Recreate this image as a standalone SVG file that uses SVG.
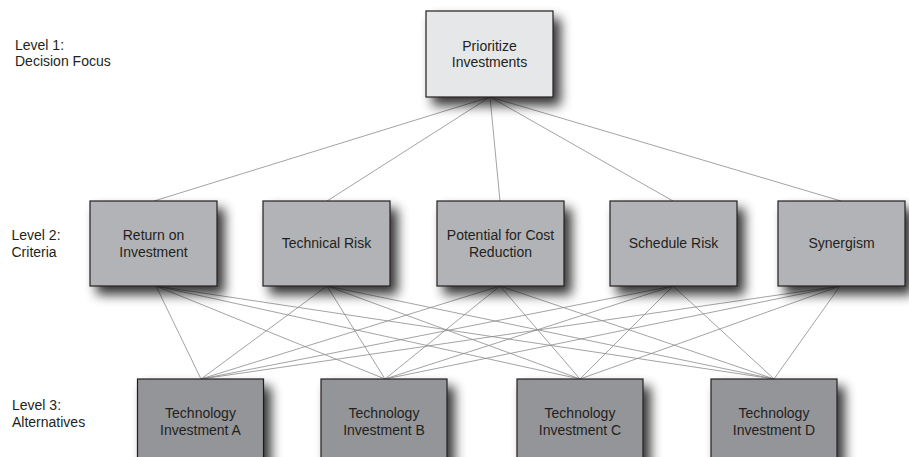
<svg xmlns="http://www.w3.org/2000/svg" width="909" height="457" viewBox="0 0 909 457">
  <defs>
    <filter id="shadow" x="-25%" y="-25%" width="160%" height="160%">
      <feGaussianBlur in="SourceAlpha" stdDeviation="6" result="blur"/>
      <feOffset in="blur" dx="7" dy="8" result="off"/>
      <feComponentTransfer in="off" result="soft">
        <feFuncA type="linear" slope="0.8"/>
      </feComponentTransfer>
      <feMerge>
        <feMergeNode in="soft"/>
        <feMergeNode in="SourceGraphic"/>
      </feMerge>
    </filter>
  </defs>
  <style>
    text { font-family: "Liberation Sans", Arial, sans-serif; font-size: 14px; fill: #231f20; }
    .box text { text-anchor: middle; }
    .box rect { stroke: #231f20; stroke-width: 1.2; filter: url(#shadow); }
    .l1 rect { fill: #e6e7e8; }
    .l2 rect { fill: #b1b3b6; }
    .l3 rect { fill: #939598; }
    #connectors line { stroke: #8c8c8c; stroke-width: 0.8; }
  </style>

  <rect width="909" height="457" fill="#ffffff"/>

  <!-- level labels -->
  <g id="labels">
    <text x="15" y="49.5">Level 1:</text>
    <text x="15" y="66">Decision Focus</text>
    <text x="11.5" y="240">Level 2:</text>
    <text x="11.5" y="256.5">Criteria</text>
    <text x="12" y="409.5">Level 3:</text>
    <text x="12" y="426.5">Alternatives</text>
  </g>

  <!-- connectors: focus to criteria, criteria to alternatives -->
  <g id="connectors">
    <line x1="490" y1="97" x2="154" y2="201"/>
    <line x1="490" y1="97" x2="327" y2="201"/>
    <line x1="490" y1="97" x2="500" y2="201"/>
    <line x1="490" y1="97" x2="673" y2="201"/>
    <line x1="490" y1="97" x2="841" y2="201"/>

    <line x1="156" y1="286" x2="201" y2="379"/>
    <line x1="156" y1="286" x2="385" y2="379"/>
    <line x1="156" y1="286" x2="580" y2="379"/>
    <line x1="156" y1="286" x2="774" y2="379"/>

    <line x1="327" y1="286" x2="201" y2="379"/>
    <line x1="327" y1="286" x2="385" y2="379"/>
    <line x1="327" y1="286" x2="580" y2="379"/>
    <line x1="327" y1="286" x2="774" y2="379"/>

    <line x1="500" y1="286" x2="201" y2="379"/>
    <line x1="500" y1="286" x2="385" y2="379"/>
    <line x1="500" y1="286" x2="580" y2="379"/>
    <line x1="500" y1="286" x2="774" y2="379"/>

    <line x1="673" y1="286" x2="201" y2="379"/>
    <line x1="673" y1="286" x2="385" y2="379"/>
    <line x1="673" y1="286" x2="580" y2="379"/>
    <line x1="673" y1="286" x2="774" y2="379"/>

    <line x1="840" y1="286" x2="201" y2="379"/>
    <line x1="840" y1="286" x2="385" y2="379"/>
    <line x1="840" y1="286" x2="580" y2="379"/>
    <line x1="840" y1="286" x2="774" y2="379"/>
  </g>

  <!-- level 1 -->
  <g id="focus" class="box l1">
    <rect x="426" y="11" width="127" height="86"/>
    <text x="489.5" y="50.5">Prioritize</text>
    <text x="489.5" y="67">Investments</text>
  </g>

  <!-- level 2 -->
  <g id="roi" class="box l2">
    <rect x="90" y="201" width="127" height="85"/>
    <text x="153.5" y="240">Return on</text>
    <text x="153.5" y="256.5">Investment</text>
  </g>
  <g id="tech-risk" class="box l2">
    <rect x="263" y="201" width="127" height="85"/>
    <text x="326.5" y="247.5">Technical Risk</text>
  </g>
  <g id="cost-reduction" class="box l2">
    <rect x="437" y="201" width="127" height="85"/>
    <text x="500.5" y="240">Potential for Cost</text>
    <text x="500.5" y="256.5">Reduction</text>
  </g>
  <g id="schedule-risk" class="box l2">
    <rect x="610" y="201" width="127" height="85"/>
    <text x="673.5" y="247.5">Schedule Risk</text>
  </g>
  <g id="synergism" class="box l2">
    <rect x="778" y="201" width="127" height="85"/>
    <text x="841.5" y="247.5">Synergism</text>
  </g>

  <!-- level 3 -->
  <g id="invest-a" class="box l3">
    <rect x="137.5" y="379" width="126" height="90"/>
    <text x="200.5" y="418">Technology</text>
    <text x="200.5" y="434.5">Investment A</text>
  </g>
  <g id="invest-b" class="box l3">
    <rect x="321" y="379" width="126" height="90"/>
    <text x="384" y="418">Technology</text>
    <text x="384" y="434.5">Investment B</text>
  </g>
  <g id="invest-c" class="box l3">
    <rect x="517" y="379" width="126" height="90"/>
    <text x="580" y="418">Technology</text>
    <text x="580" y="434.5">Investment C</text>
  </g>
  <g id="invest-d" class="box l3">
    <rect x="711" y="379" width="126" height="90"/>
    <text x="774" y="418">Technology</text>
    <text x="774" y="434.5">Investment D</text>
  </g>
</svg>
